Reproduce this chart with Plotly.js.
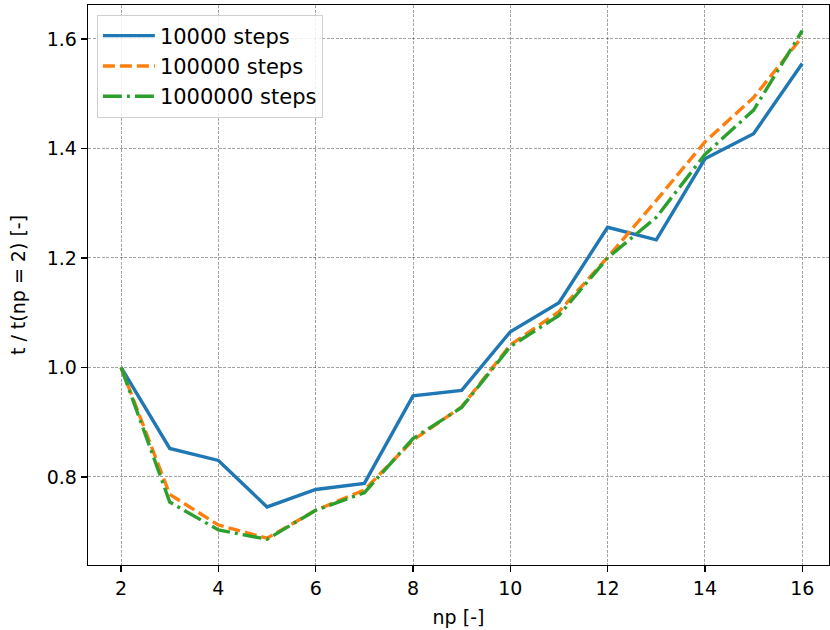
<!DOCTYPE html>
<html>
<head>
<meta charset="utf-8">
<script src="https://cdn.plot.ly/plotly-3.0.1.min.js"></script>
<style>html,body{margin:0;padding:0;background:#fff;}#chart{width:830px;height:630px;}</style>
</head>
<body>
<div id="chart"></div>
<script>
const np = [2, 3, 4, 5, 6, 7, 8, 9, 10, 11, 12, 13, 14, 15, 16];
const steps10k = [1.0, 0.852, 0.830, 0.745, 0.777, 0.788, 0.948, 0.958, 1.065, 1.118, 1.256, 1.233, 1.381, 1.427, 1.555];
const steps100k = [1.0, 0.768, 0.712, 0.688, 0.739, 0.776, 0.867, 0.928, 1.041, 1.102, 1.201, 1.305, 1.412, 1.493, 1.604];
const steps1M = [1.0, 0.754, 0.703, 0.686, 0.739, 0.771, 0.870, 0.927, 1.038, 1.095, 1.200, 1.274, 1.389, 1.470, 1.615];
const names = ['10000 steps', '100000 steps', '1000000 steps'];
const xTicks = [2, 4, 6, 8, 10, 12, 14, 16];
const yTicks = [0.8, 1.0, 1.2, 1.4, 1.6];

const FS = 19;
const font = {family: 'DejaVu Sans', size: FS, color: '#000'};
const traces = [
  {x: np, y: steps10k, name: names[0], mode: 'lines', line: {color: '#1f77b4', width: 3.4}},
  {x: np, y: steps100k, name: names[1], mode: 'lines', line: {color: '#ff7f0e', width: 3.4, dash: '12px,5px'}},
  {x: np, y: steps1M, name: names[2], mode: 'lines', line: {color: '#2ca02c', width: 3.4, dash: '19px,5px,3px,5px'}}
];
const axisCommon = {
  showline: true, linecolor: '#000', linewidth: 1.3, mirror: true,
  ticks: 'outside', ticklen: 6, tickwidth: 1.3, tickcolor: '#000',
  showgrid: true, gridcolor: 'rgba(0,0,0,0.45)', gridwidth: 0.8, griddash: '3px,1.5px',
  zeroline: false, tickfont: font
};
const layout = {
  width: 830, height: 630,
  margin: {l: 88, r: 1, t: 5, b: 65},
  paper_bgcolor: '#fff', plot_bgcolor: '#fff',
  font: font,
  showlegend: true,
  legend: {x: 0.012, y: 0.983, xanchor: 'left', yanchor: 'top', bgcolor: 'rgba(255,255,255,0.85)',
           bordercolor: '#d0d0d0', borderwidth: 1, font: {family: 'DejaVu Sans', size: 21, color: '#000'},
           itemwidth: 52, tracegroupgap: 0},
  xaxis: Object.assign({}, axisCommon, {range: [1.32, 16.55], tickvals: xTicks, ticktext: xTicks.map(String),
           title: {text: 'np [-]', font: {family: 'DejaVu Sans', size: FS, color: '#000'}, standoff: 12}}),
  yaxis: Object.assign({}, axisCommon, {range: [0.639, 1.662], tickvals: yTicks, ticktext: yTicks.map(v => v.toFixed(1)),
           title: {text: 't / t(np = 2) [-]', font: {family: 'DejaVu Sans', size: FS, color: '#000'}, standoff: 16}})
};
Plotly.newPlot('chart', traces, layout, {displayModeBar: false, staticPlot: true});
</script>
</body>
</html>
